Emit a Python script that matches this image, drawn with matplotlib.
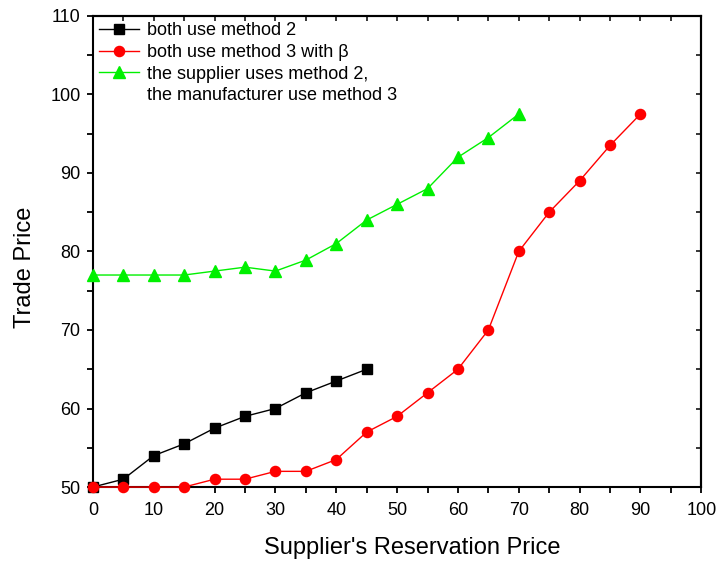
import matplotlib.pyplot as plt
from matplotlib.lines import Line2D
from matplotlib.ticker import MultipleLocator

plt.rcParams['font.family'] = ['Liberation Sans', 'DejaVu Sans']

# data
x_m2 = [0, 5, 10, 15, 20, 25, 30, 35, 40, 45]
y_m2 = [50, 51, 54, 55.5, 57.5, 59, 60, 62, 63.5, 65]
x_m3 = [0, 5, 10, 15, 20, 25, 30, 35, 40, 45, 50, 55, 60, 65, 70, 75, 80, 85, 90]
y_m3 = [50, 50, 50, 50, 51, 51, 52, 52, 53.5, 57, 59, 62, 65, 70, 80, 85, 89, 93.5, 97.5]
x_mix = [0, 5, 10, 15, 20, 25, 30, 35, 40, 45, 50, 55, 60, 65, 70]
y_mix = [77, 77, 77, 77, 77.5, 78, 77.5, 78.9, 81, 84, 86, 88, 92, 94.5, 97.5]

labels = ['both use method 2', 'both use method 3 with \u03b2',
          'the supplier uses method 2,', 'the manufacturer use method 3']

GREEN = '#00f000'

fig = plt.figure(figsize=(7.2, 5.67), dpi=100)
ax = fig.add_axes([0.129, 0.141, 0.845, 0.831])

ax.plot(x_m2, y_m2, color='black', linewidth=1, marker='s', markersize=6.5,
        clip_on=False, zorder=3)
ax.plot(x_m3, y_m3, color='red', linewidth=1, marker='o', markersize=7.3,
        clip_on=False, zorder=3)
ax.plot(x_mix, y_mix, color=GREEN, linewidth=1, marker='^', markersize=8.5,
        clip_on=False, zorder=3)

ax.set_xlim(0, 100)
ax.set_ylim(50, 110)
ax.xaxis.set_major_locator(MultipleLocator(10))
ax.xaxis.set_minor_locator(MultipleLocator(5))
ax.yaxis.set_major_locator(MultipleLocator(10))
ax.yaxis.set_minor_locator(MultipleLocator(5))
ax.tick_params(which='both', direction='out', length=4.5, width=1.3, labelsize=13)
ax.tick_params(axis='x', pad=6)
ax.tick_params(axis='y', pad=4.5)
for s in ax.spines.values():
    s.set_linewidth(1.5)

# inward ticks on top and right
top = ax.secondary_xaxis('top')
top.xaxis.set_major_locator(MultipleLocator(5))
top.tick_params(direction='in', length=3.5, width=1.1, labeltop=False)
right = ax.secondary_yaxis('right')
right.yaxis.set_major_locator(MultipleLocator(5))
right.tick_params(direction='in', length=3.5, width=1.1, labelright=False)
top.spines['top'].set_linewidth(1.5)
right.spines['right'].set_linewidth(1.5)

ax.set_xlabel("Supplier's Reservation Price", fontsize=17, labelpad=13)
ax.set_ylabel('Trade Price', fontsize=17, labelpad=10)
# labels sit a little off-centre in the original
ax.xaxis.label.set_x(0.525)
ax.yaxis.label.set_y(0.466)

handles = [
    Line2D([], [], color='black', linewidth=1, marker='s', markersize=6.5),
    Line2D([], [], color='red', linewidth=1, marker='o', markersize=7.3),
    Line2D([], [], color=GREEN, linewidth=1, marker='^', markersize=8.5),
    Line2D([], [], linestyle='none'),
]
ax.legend(handles, labels, loc='upper left', frameon=False, fontsize=13,
          handlelength=2.2, handletextpad=0.45, labelspacing=0.26,
          borderaxespad=0.3, borderpad=0.05, numpoints=1)

fig.savefig('out.png', dpi=100)
